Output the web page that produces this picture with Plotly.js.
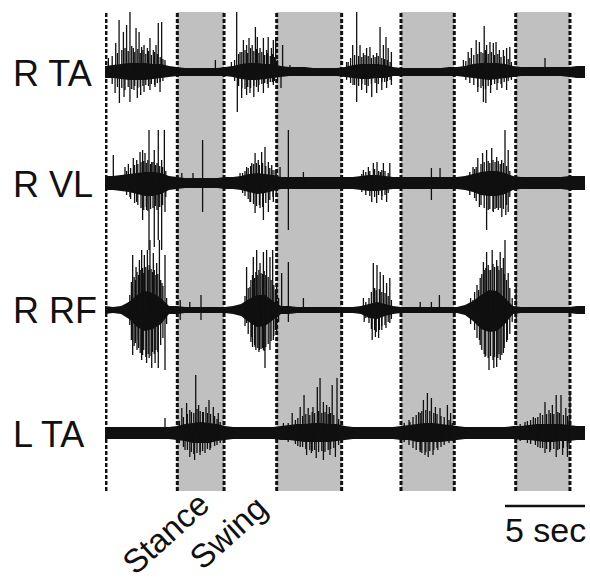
<!DOCTYPE html>
<html>
<head>
<meta charset="utf-8">
<script src="https://cdn.plot.ly/plotly-3.0.1.min.js"></script>
<style>html,body{margin:0;padding:0;background:#fff;}#chart{width:590px;height:578px;}</style>
</head>
<body>
<div id="chart"></div>
<script>
// ---------- DATA ----------
const channels = ['R TA', 'R VL', 'R RF', 'L TA'];

// gait phases (seconds)
const stanceOnset = [0.06, 7.44, 14.79, 21.83];
const swingOnset  = [4.52, 10.73, 18.5, 25.67];
const swingEnd    = [7.44, 14.79, 21.83, 29.06];

// scale bar
const scaleBarStart = 25;
const scaleBarLength = 5;
const scaleBarLabel = '5 sec';
const phaseLabels = ['Stance', 'Swing'];

// envelope sample times (s)
const tEnv = [0,0.5,1,1.5,2,2.5,3,3.5,4,4.5,
  5,5.5,6,6.5,7,7.5,8,8.5,9,9.5,
  10,10.5,11,11.5,12,12.5,13,13.5,14,14.5,
  15,15.5,16,16.5,17,17.5,18,18.5,19,19.5,
  20,20.5,21,21.5,22,22.5,23,23.5,24,24.5,
  25,25.5,26,26.5,27,27.5,28,28.5,29,29.5,30];

// background activity envelope (upper / lower magnitude)
const rtaEnvUp = [6,7,8,9,9,9,8,8,6,5, 4,4,4,4,4,5,6,8,9,9, 8,8,6,5,5,5,4,4,4,4, 5,7,8,8,8,7,5,4,4,4, 4,4,4,5,5,6,8,9,9,9, 8,6,5,5,5,5,5,5,5,6, 6];
const rtaEnvDn = [6,6,7,8,8,8,7,6,5,4, 4,4,4,4,4,4,5,7,8,8, 7,6,5,4,4,4,4,4,4,4, 5,6,7,7,6,6,4,4,4,4, 4,4,4,4,4,5,6,7,8,7, 6,5,4,4,4,4,4,4,5,6, 6];
const rvlEnvUp = [7,7,8,9,10,11,11,10,7,6, 5,5,5,5,5,6,6,7,9,10, 9,8,6,6,6,6,6,6,6,6, 6,6,7,8,8,7,6,6,6,6, 6,6,6,6,6,7,9,11,12,12, 10,7,6,6,6,6,6,6,7,7, 7];
const rvlEnvDn = [7,7,8,9,11,13,13,11,7,6, 5,5,5,5,5,6,6,7,9,11, 10,8,6,6,6,6,6,6,6,6, 6,6,7,8,8,7,6,6,6,6, 6,6,6,6,6,7,9,12,13,13, 11,7,6,6,6,6,6,6,7,7, 7];
const rrfEnvUp = [4,3,4,8,15,19,17,12,4,4, 3,3,3,3,3,3,4,6,11,15, 15,9,4,4,3,3,3,3,3,3, 3,3,4,6,8,6,4,3,3,3, 3,3,3,3,3,5,9,15,20,19, 12,4,3,3,3,3,3,3,3,4, 4];
const rrfEnvDn = [4,3,4,9,17,21,19,14,4,4, 3,3,3,3,3,3,4,6,12,17, 16,10,4,4,3,3,3,3,3,3, 3,3,4,8,9,6,4,3,3,3, 3,3,3,3,3,5,11,19,22,21, 14,4,3,3,3,3,3,3,3,4, 4];
const ltaEnvUp = [6,6,6,6,6,6,6,6,6,7, 9,10,11,10,9,7,6,6,6,6, 6,6,7,8,9,9,10,10,9,9, 7,6,6,6,6,6,6,7,8,9, 10,10,9,8,7,6,6,6,6,6, 6,7,7,8,9,9,9,9,8,7, 7];
const ltaEnvDn = [6,6,6,6,6,6,6,6,6,7, 8,10,10,10,8,7,6,6,6,6, 6,6,7,7,8,9,9,9,9,8, 7,6,6,6,6,6,6,7,7,9, 9,9,9,8,7,6,6,6,6,6, 6,6,7,7,8,9,9,8,8,7, 7];

// dense burst spikes: times, upper and lower magnitudes
const rtaCoreT = [0.45,0.78,1.05,1.25,1.45,1.67,1.86,2.05,2.2,2.37,2.55,2.72,2.9,3.1,3.27,3.45,3.62, 8.1,8.35,8.55,8.75,8.92,9.1,9.3,9.47,9.62,9.8,9.98,10.15,10.33,10.46,10.6,10.78, 15.1,15.35,15.6,15.85,16.05,16.25,16.45,16.65,16.88,17.08,17.3,17.48,17.65,17.82, 22.55,22.8,23.05,23.3,23.5,23.62,23.78,23.95,24.15,24.35,24.55,24.75,24.95,25.2,25.4];
const rtaCoreUp = [16,19,22,24,21,26,20,23,19,22,18,21,17,20,18,15,13, 12,18,20,22,19,24,21,23,19,20,17,19,16,18,15,12, 10,14,17,16,15,17,16,14,15,16,14,13,12,10, 11,14,17,18,20,19,22,18,20,17,18,15,16,13,10];
const rtaCoreDn = [12,15,16,18,15,17,14,16,15,14,13,14,12,13,11,10,9, 9,14,16,17,15,16,14,15,13,12,11,12,10,10,9,8, 8,11,13,14,12,13,14,12,11,12,10,10,9,8, 8,11,13,15,16,14,17,14,13,12,11,12,10,9,8];
const rvlCoreT = [1.35,1.6,1.85,2.05,2.25,2.42,2.58,2.68,2.85,3.0,3.16,3.25,3.42,3.6,3.8, 8.6,8.75,8.95,9.1,9.28,9.47,9.65,9.85,10.05,10.3,10.5,10.7, 16.05,16.3,16.55,16.85,17.1,17.3,17.5,17.7, 22.8,23.1,23.2,23.5,23.7,23.95,24.05,24.25,24.38,24.58,24.7,24.9,25.1,25.3];
const rvlCoreUp = [12,15,18,19,21,22,20,23,19,21,18,20,17,16,12, 10,12,15,17,19,20,18,20,17,15,13,11, 9,11,12,14,12,13,12,10, 11,14,16,19,21,22,20,23,21,22,19,20,17,12];
const rvlCoreDn = [12,16,20,22,25,27,24,28,26,25,23,27,24,22,14, 10,13,16,19,21,23,22,24,20,17,14,11, 9,12,13,14,12,13,12,10, 12,15,18,22,25,27,26,28,26,27,25,26,22,14];
const rrfCoreT = [1.55,1.65,1.82,1.9,2.0,2.1,2.2,2.35,2.42,2.55,2.7,2.76,2.88,2.97,3.08,3.18,3.3,3.48,3.62,3.85, 8.75,8.95,9.12,9.22,9.35,9.43,9.55,9.62,9.75,9.85,9.95,10.05,10.2,10.38,10.55,10.65,10.85, 16.3,16.5,16.65,16.85,16.95,17.15,17.3,17.5,17.7,17.9, 22.85,23.1,23.25,23.45,23.55,23.7,23.8,23.95,24.1,24.25,24.35,24.55,24.62,24.8,24.95,25.1,25.3,25.45];
const rrfCoreUp = [15,28,33,30,38,35,40,42,37,43,40,45,41,38,40,35,36,30,24,12, 14,22,30,35,32,38,35,40,37,36,39,35,33,30,25,20,12, 8,12,18,22,20,21,18,17,14,10, 12,18,25,32,36,40,42,45,40,46,43,44,40,42,36,30,22,12];
const rrfCoreDn = [15,30,36,33,40,38,43,45,40,47,44,48,46,42,44,40,42,35,28,14, 16,24,32,37,35,40,38,42,39,38,41,37,34,31,26,20,12, 8,13,19,20,22,20,16,15,12,9, 14,20,28,35,40,44,46,48,46,50,47,48,44,45,38,32,24,12];
const ltaCoreT = [4.65,4.9,5.15,5.4,5.55,5.75,5.95,6.1,6.4,6.6,6.85,7.0,7.2, 11.45,11.9,12.05,12.35,12.55,12.8,12.95,13.1,13.35,13.55,13.75,13.95,14.1,14.3,14.6, 18.7,19.0,19.25,19.45,19.7,19.8,20.05,20.3,20.55,20.75,21.0,21.2,21.5,21.7, 25.95,26.4,26.6,26.9,27.05,27.35,27.6,27.85,28.05,28.3,28.4,28.65,28.9,29.0];
const ltaCoreUp = [12,16,19,21,20,24,22,21,20,19,17,14,11, 10,13,15,17,19,18,21,20,22,20,21,19,20,18,14, 10,13,16,18,20,22,23,22,20,19,17,16,13,10, 9,12,13,15,16,18,19,20,19,21,20,18,17,14];
const ltaCoreDn = [10,14,17,19,21,20,19,18,16,15,13,12,10, 9,11,13,14,16,17,18,17,19,18,19,17,16,15,12, 9,12,15,17,19,20,19,18,17,15,14,12,10,8, 8,10,11,12,14,15,16,17,16,17,16,15,14,12];

// tall individual spikes: times (s) and peak magnitudes
const rtaUpT = [0.21,0.67,0.88,1.15,1.35,1.56,1.77,1.94,2.13,2.29,2.44,2.65,2.81,3.02,3.19,3.33,3.54,3.75,6.9,7.9,8.23,8.44,8.65,8.85,9.0,9.2,9.4,9.52,9.69,9.9,10.1,10.2,10.4,10.52,10.67,11.1,11.56,15.2,15.48,15.73,15.94,16.15,16.35,16.56,16.77,16.98,17.19,17.4,17.56,17.7,17.9,22.4,22.7,22.9,23.2,23.4,23.7,23.85,24.06,24.27,24.44,24.65,24.9,25.1,25.3,27.5];
const rtaUpA = [14,29,52,40,47,60,24,44,40,25,27,24,34,22,27,49,50,12,12,10,60,20,32,27,34,27,45,35,24,34,22,35,24,32,35,27,7,10,27,60,27,19,24,25,17,19,45,27,35,24,20,12,20,24,32,30,46,27,30,29,30,22,22,24,25,14];
const rtaDnT = [0.63,0.9,1.19,1.56,1.81,2.02,2.23,2.44,2.81,3.13,3.44,8.27,8.54,8.85,9.06,9.3,9.58,9.9,10.2,10.52,11.0,15.5,15.73,16.04,16.35,16.67,16.98,17.3,17.6,17.9,23.3,23.65,23.8,24.1,24.5,24.8,25.1];
const rtaDnA = [21,31,25,30,18,26,23,20,18,15,20,40,26,23,21,25,20,21,16,13,16,13,30,18,21,25,21,18,16,13,20,30,31,21,18,16,18];

const rvlUpT = [0.52,1.25,1.46,1.77,1.98,2.19,2.35,2.5,2.75,2.92,3.08,3.33,3.54,3.71,4.8,5.5,6.1,8.44,8.85,9.17,9.38,9.58,9.79,10.0,10.21,10.42,10.63,10.94,11.46,12.4,16.15,16.46,16.77,17.0,17.21,17.4,17.8,20.4,20.94,23.0,23.3,23.6,23.85,24.17,24.48,24.79,25.0,25.2];
const rvlUpA = [28,16,19,25,23,31,33,30,53,21,33,53,23,53,10,10,43,10,16,20,30,23,31,36,21,18,13,16,53,11,13,16,20,21,11,20,20,15,15,16,25,30,33,35,26,23,53,33];
const rvlDnT = [1.56,1.98,2.35,2.6,2.75,3.08,3.33,3.54,3.75,6.1,9.06,9.38,9.69,9.9,10.21,10.52,11.46,16.67,16.98,17.3,17.6,20.4,23.4,23.85,24.27,24.48,24.8,25.05,25.2];
const rvlDnA = [14,19,37,27,67,64,57,67,29,29,19,30,25,37,29,19,47,19,20,17,19,17,24,47,29,25,34,32,29];

const rrfUpT = [1.46,1.73,1.94,2.15,2.29,2.46,2.65,2.81,3.02,3.23,3.4,3.56,3.75,4.7,5.3,6.0,8.85,9.06,9.27,9.48,9.69,9.9,10.1,10.31,10.48,10.73,11.04,11.46,12.4,16.15,16.77,17.0,17.2,17.4,17.6,17.8,19.7,20.4,20.9,23.0,23.35,23.65,23.85,24.0,24.2,24.48,24.7,24.9,25.0,25.2,25.7];
const rrfUpA = [8,55,43,50,60,55,60,70,57,47,70,27,55,10,8,15,43,23,53,60,47,58,60,53,60,23,37,48,12,12,47,45,38,35,27,32,8,8,15,10,20,48,58,40,60,50,58,52,70,37,27];
const rrfDnT = [1.73,2.08,2.29,2.6,2.92,3.13,3.33,3.75,4.7,6.0,8.85,9.17,9.38,9.65,9.9,10.0,10.31,10.52,10.73,11.46,16.2,16.7,16.9,17.1,17.3,17.56,17.8,23.4,23.75,24.0,24.3,24.48,24.7,24.9,25.15,25.7];
const rrfDnA = [45,30,50,53,58,53,58,60,10,10,13,27,37,40,40,58,40,30,23,12,12,30,27,28,20,18,13,30,47,60,58,57,50,43,30,12];

const ltaUpT = [3.75,4.8,5.1,5.3,5.67,5.85,6.15,6.31,6.5,6.77,7.08,11.15,11.7,12.2,12.44,12.7,13.0,13.27,13.44,13.65,13.85,14.02,14.2,14.5,19.06,19.6,19.9,20.15,20.4,20.65,20.94,21.4,21.6,26.25,26.77,27.2,27.5,27.75,27.96,28.2,28.5,28.8,29.06];
const ltaUpA = [15,25,30,23,58,28,21,26,33,26,20,10,20,26,38,25,26,46,55,31,28,26,48,55,11,21,33,40,35,26,25,28,20,11,16,20,31,23,28,38,38,25,38];
const ltaDnT = [5.0,5.3,5.6,5.94,6.25,6.56,12.2,12.6,12.9,13.2,13.65,14.06,14.4,19.7,20.0,20.2,20.5,20.8,27.2,27.5,27.8,28.2,28.6,28.9];
const ltaDnA = [17,24,27,22,20,17,14,22,20,25,27,22,24,17,22,24,22,17,15,20,19,24,22,24];

const envUp = [rtaEnvUp, rvlEnvUp, rrfEnvUp, ltaEnvUp];
const envDn = [rtaEnvDn, rvlEnvDn, rrfEnvDn, ltaEnvDn];
const coreT = [rtaCoreT, rvlCoreT, rrfCoreT, ltaCoreT];
const coreUp = [rtaCoreUp, rvlCoreUp, rrfCoreUp, ltaCoreUp];
const coreDn = [rtaCoreDn, rvlCoreDn, rrfCoreDn, ltaCoreDn];
const upT = [rtaUpT, rvlUpT, rrfUpT, ltaUpT];
const upA = [rtaUpA, rvlUpA, rrfUpA, ltaUpA];
const dnT = [rtaDnT, rvlDnT, rrfDnT, ltaDnT];
const dnA = [rtaDnA, rvlDnA, rrfDnA, ltaDnA];

// ---------- LAYOUT CONSTANTS ----------
const W = 590, H = 578;
const baselinePx = [72, 183, 310, 433];
const halfPx = 70;
const FONT = 'Arial, "Liberation Sans", Helvetica, sans-serif';
const py = p => (H - p) / H;           // pixel row -> paper y
const px = p => (p - 105) / 480;       // pixel col -> paper x

function segs(ts, hi, lo) {
  const x = [], y = [];
  ts.forEach((t, i) => { x.push(t, t, null); y.push(lo(i), hi(i), null); });
  return {x, y};
}

const traces = [];
const layout = {
  width: W, height: H,
  margin: {l: 105, r: 5, t: 0, b: 0},
  paper_bgcolor: '#ffffff',
  plot_bgcolor: 'rgba(0,0,0,0)',
  showlegend: false,
  xaxis: {range: [0, 30], visible: false, fixedrange: true},
  shapes: [], annotations: []
};

const INK = '#101010';
channels.forEach((name, c) => {
  const ya = c === 0 ? 'y' : 'y' + (c + 1);
  const key = c === 0 ? 'yaxis' : 'yaxis' + (c + 1);
  layout[key] = {
    domain: [py(baselinePx[c] + halfPx), py(baselinePx[c] - halfPx)],
    range: [-halfPx, halfPx], visible: false, fixedrange: true, anchor: 'x'
  };
  const bx = tEnv.concat(tEnv.slice().reverse());
  const by = envUp[c].concat(envDn[c].map(v => -v).reverse());
  traces.push({x: bx, y: by, xaxis: 'x', yaxis: ya, type: 'scatter', mode: 'lines',
    fill: 'toself', fillcolor: INK, line: {color: INK, width: 0}, hoverinfo: 'skip'});
  const core = segs(coreT[c], i => coreUp[c][i], i => -coreDn[c][i]);
  const u = segs(upT[c], i => upA[c][i], i => 0);
  const d = segs(dnT[c], i => 0, i => -dnA[c][i]);
  [core, u, d].forEach(s => traces.push({x: s.x, y: s.y, xaxis: 'x', yaxis: ya, type: 'scatter',
    mode: 'lines', line: {color: INK, width: 1.3}, hoverinfo: 'skip', connectgaps: false}));
  layout.annotations.push({
    text: name, xref: 'paper', yref: 'paper', x: px(11), y: py(baselinePx[c] + 1),
    xanchor: 'left', yanchor: 'middle', showarrow: false,
    font: {family: FONT, size: 36, color: '#111'}
  });
});

// swing shading
const yTop = py(12), yBot = py(491);
swingOnset.forEach((s, i) => {
  layout.shapes.push({type: 'rect', xref: 'x', yref: 'paper', x0: s, x1: swingEnd[i], y0: yBot, y1: yTop,
    fillcolor: '#c0c0c0', line: {width: 0}, layer: 'below'});
});
// dashed phase boundaries
const bounds = [...stanceOnset, ...swingOnset, swingEnd[swingEnd.length - 1]];
[...new Set(bounds)].forEach(b => {
  layout.shapes.push({type: 'line', xref: 'x', yref: 'paper', x0: b, x1: b, y0: yBot, y1: yTop,
    line: {color: '#111', width: 3, dash: '4px,2px'}, layer: 'below'});
});
// scale bar
layout.shapes.push({type: 'line', xref: 'x', yref: 'paper', x0: scaleBarStart, x1: scaleBarStart + scaleBarLength,
  y0: py(506), y1: py(506), line: {color: '#111', width: 2.5}});
layout.annotations.push({text: scaleBarLabel, xref: 'x', yref: 'paper', x: scaleBarStart + scaleBarLength / 2,
  y: py(530), xanchor: 'center', yanchor: 'middle', showarrow: false,
  font: {family: FONT, size: 34, color: '#111'}});
// phase labels
layout.annotations.push({text: phaseLabels[0], xref: 'paper', yref: 'paper', x: px(165), y: py(533),
  xanchor: 'center', yanchor: 'middle', showarrow: false, textangle: -42,
  font: {family: FONT, size: 33, color: '#111'}});
layout.annotations.push({text: phaseLabels[1], xref: 'paper', yref: 'paper', x: px(228), y: py(532),
  xanchor: 'center', yanchor: 'middle', showarrow: false, textangle: -42,
  font: {family: FONT, size: 33, color: '#111'}});

Plotly.newPlot('chart', traces, layout, {staticPlot: true, displayModeBar: false});
</script>
</body>
</html>
